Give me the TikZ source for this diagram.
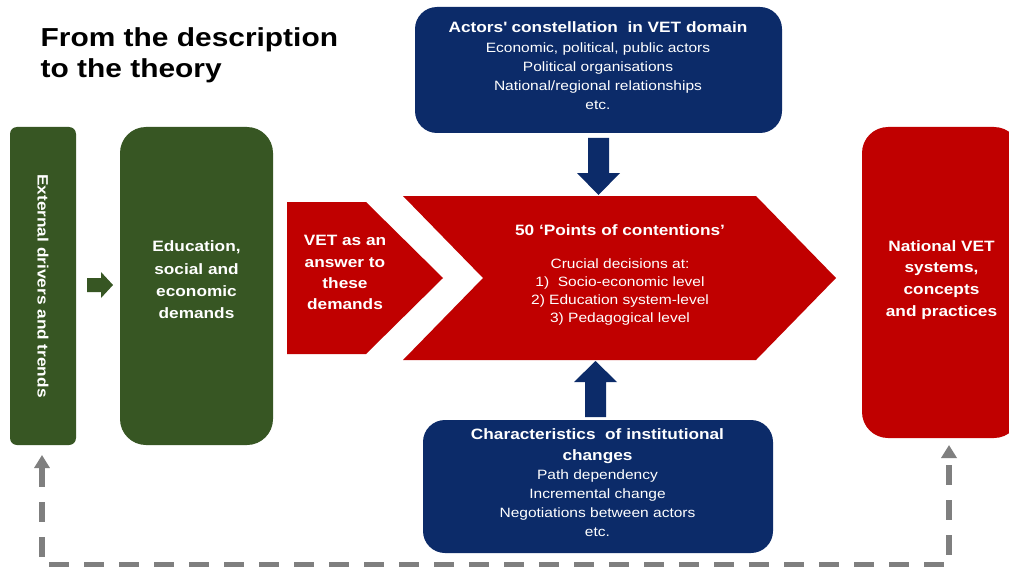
\documentclass[tikz,border=0pt]{standalone}
\usepackage{fontspec}
\setmainfont{Liberation Sans}[FakeStretch=1.15]
\usetikzlibrary{arrows.meta}
\definecolor{driveGreen}{HTML}{375623}
\definecolor{vetRed}{HTML}{C00000}
\definecolor{actorNavy}{HTML}{0C2B69}
\definecolor{loopGray}{HTML}{7F7F7F}
% bold heading line inside a text block
\newcommand\boxhead{\bfseries\fontsize{15}{18.7}\selectfont}
\begin{document}
\begin{tikzpicture}[x=1pt,y=-1pt,
  panel/.style={inner sep=0pt, outer sep=0pt, rounded corners=#1},
  boldtext/.style={text=white, align=center, inner sep=0pt, font=\bfseries\fontsize{15}{22.3}\selectfont},
  bodytext/.style={text=white, align=center, inner sep=0pt, font=\fontsize{13.5}{18.7}\selectfont},
  feedback/.style={draw=loopGray, line width=5.5pt, dash pattern=on 20pt off 15pt,
    {Triangle[width=15pt,length=13pt]}-{Triangle[width=15pt,length=13pt]}}
]
\useasboundingbox (0,0) rectangle (1009,567);
\fill[white] (0,0) rectangle (1009,567);

% heading
\node[anchor=north west, inner sep=0pt, align=left,
      font=\bfseries\fontsize{26}{31.3}\selectfont] (title) at (40.5,27)
  {From the description\\to the theory};

% green column: drivers and demands
\node[panel=7pt, fill=driveGreen, minimum width=66pt, minimum height=318pt] (ext) at (43,286) {};
\node[boldtext, rotate=-90] (extText) at (ext.center) {External drivers and trends};
\fill[driveGreen] (87,278) -- (101,278) -- (101,272) -- (113,285) -- (101,298) -- (101,292) -- (87,292) -- cycle;
\node[panel=26pt, fill=driveGreen, minimum width=153pt, minimum height=318pt] (edu) at (196.5,286) {};
\node[boldtext] (eduText) at (196.5,280) {Education,\\social and\\economic\\demands};

% red arrows: answer and points of contention
\fill[vetRed] (287,202) -- (366,202) -- (443,278) -- (366,354) -- (287,354) -- cycle;
\node[boldtext, font=\bfseries\fontsize{15}{21.3}\selectfont] (vetText) at (345,272.6)
  {VET as an\\answer to\\these\\demands};
\fill[vetRed] (403,196) -- (756,196) -- (836,278) -- (756,360) -- (403,360) -- (483,278) -- cycle;
\node[bodytext, font=\fontsize{13.5}{18.3}\selectfont] (pocText) at (620,275)
  {{\bfseries\fontsize{15}{18.3}\selectfont 50 ‘Points of contentions’}\\[14.7pt]
   Crucial decisions at:\\1)~ Socio-economic level\\2) Education system-level\\3) Pedagogical level};

% outcome
\node[panel=26pt, fill=vetRed, minimum width=158pt, minimum height=311pt] (nat) at (941,282.5) {};
\node[boldtext, font=\bfseries\fontsize{15}{21.7}\selectfont] (natText) at (941.5,279.7)
  {National VET\\systems,\\concepts\\and practices};

% actors above
\node[panel=22pt, fill=actorNavy, minimum width=367pt, minimum height=126pt] (actors) at (598.5,70) {};
\node[bodytext] (actorsText) at (598,65.6)
  {{\boxhead Actors\textquotesingle{} constellation\ \ in VET domain}\\[1.3pt]
   Economic, political, public actors\\Political organisations\\National/regional relationships\\etc.};
\fill[actorNavy] (588,138) -- (609,138) -- (609,173) -- (620,173) -- (598.5,195) -- (577,173) -- (588,173) -- cycle;

% institutional change below
\node[panel=22pt, fill=actorNavy, minimum width=350pt, minimum height=133pt] (inst) at (598,486.5) {};
\node[bodytext] (instText) at (597.5,482.6)
  {{\boxhead Characteristics\ \ of institutional}\\[2.3pt]{\boxhead changes}\\[0.3pt]
   Path dependency\\Incremental change\\Negotiations between actors\\etc.};
\fill[actorNavy] (585,417) -- (606,417) -- (606,382) -- (617,382) -- (595.5,361) -- (574,382) -- (585,382) -- cycle;

% feedback loop
\coordinate (fbL) at (42,455);
\coordinate (fbR) at (949,445);
\draw[feedback] (fbL) -- ++(0,110) -| (fbR);
\end{tikzpicture}
\end{document}
